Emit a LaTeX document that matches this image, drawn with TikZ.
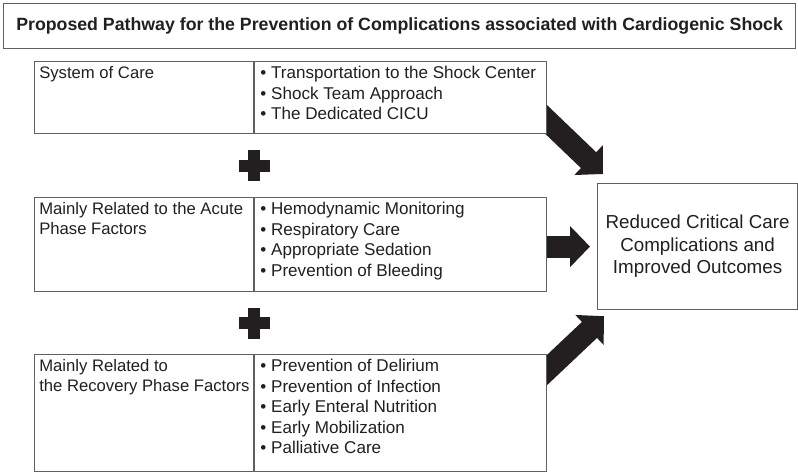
\documentclass[tikz,border=0pt]{standalone}
\usepackage{fontspec}
\setmainfont{Liberation Sans}
\usetikzlibrary{arrows.meta,positioning,calc,backgrounds}

\definecolor{ink}{HTML}{231F20}
\definecolor{rule}{HTML}{5F6062}

\begin{document}
\begin{tikzpicture}[
    x=0.75pt, y=-0.75pt,
    font=\fontsize{12.8pt}{15.4pt}\selectfont,
    text=ink,
    cell/.style={
        draw=rule,
        line width=0.9pt,
        fill=white,
        inner sep=0pt,
        anchor=north west
    },
    celltext/.style={align=left, inner sep=0pt, anchor=north west},
    nametext/.style={celltext, font=\fontsize{12.5pt}{15.4pt}\selectfont},
    heading/.style={cell, minimum width=594pt, minimum height=33.75pt,
        font=\bfseries\fontsize{13.3pt}{16pt}\selectfont},
    outcome/.style={cell, align=center, minimum width=150pt, minimum height=94.5pt,
        font=\fontsize{14.1pt}{16.9pt}\selectfont},
    bigarrow/.style={draw=ink, line width=16.5pt, -{Triangle[width=30pt, length=15pt]}}
]

\useasboundingbox (0,0) rectangle (798,473);

\node[heading] (title) at (3,3) {Proposed Pathway for the Prevention of Complications associated with Cardiogenic Shock};

% system of care
\node[cell, minimum width=164.25pt, minimum height=54pt] (careLeft) at (34,61) {};
\node[cell, minimum width=219pt, minimum height=54pt] (careRight) at (careLeft.north east) {};
\node[nametext] (careName) at ($(careLeft.north west)+(5,5)$) {System of Care};
\node[celltext] (careList) at ($(careRight.north west)+(6,5)$) {\textbullet\ Transportation to the Shock Center\\\textbullet\ Shock Team Approach\\\textbullet\ The Dedicated CICU};

% acute phase
\node[cell, minimum width=164.25pt, minimum height=70.5pt] (acuteLeft) at (34,197) {};
\node[cell, minimum width=219pt, minimum height=70.5pt] (acuteRight) at (acuteLeft.north east) {};
\node[nametext] (acuteName) at ($(acuteLeft.north west)+(5,5)$) {Mainly Related to the Acute\\Phase Factors};
\node[celltext] (acuteList) at ($(acuteRight.north west)+(6,5)$) {\textbullet\ Hemodynamic Monitoring\\\textbullet\ Respiratory Care\\\textbullet\ Appropriate Sedation\\\textbullet\ Prevention of Bleeding};

% recovery phase
\node[cell, minimum width=164.25pt, minimum height=87.75pt] (recoveryLeft) at (34,354) {};
\node[cell, minimum width=219pt, minimum height=87.75pt] (recoveryRight) at (recoveryLeft.north east) {};
\node[nametext] (recoveryName) at ($(recoveryLeft.north west)+(5,5)$) {Mainly Related to\\the Recovery Phase Factors};
\node[celltext] (recoveryList) at ($(recoveryRight.north west)+(6,5)$) {\textbullet\ Prevention of Delirium\\\textbullet\ Prevention of Infection\\\textbullet\ Early Enteral Nutrition\\\textbullet\ Early Mobilization\\\textbullet\ Palliative Care};

\node[outcome] (outcome) at (597,183) {Reduced Critical Care\\Complications and\\Improved Outcomes};

% plus signs between the rows
\coordinate (plusA) at ($(careRight.south west)!0.5!(acuteRight.north west)$);
\coordinate (plusB) at ($(acuteRight.south west)!0.5!(recoveryRight.north west)$);
\foreach \p in {plusA,plusB} {
    \fill[ink] ($(\p)+(-15.5,-6)$) rectangle ($(\p)+(15.5,6)$);
    \fill[ink] ($(\p)+(-6,-15.5)$) rectangle ($(\p)+(6,15.5)$);
}

\begin{pgfonlayer}{background}
    \fill[white] (0,0) rectangle (798,473);
    \draw[bigarrow] ($(careRight.south east)+(-13,-26)$) -- ($(outcome.north west)+(6,-9)$);
    \draw[bigarrow] ($(acuteRight.east |- outcome.west)+(-12,0)$) -- ($(outcome.west)+(-7,0)$);
    \draw[bigarrow] ($(recoveryRight.north east)+(-12,27)$) -- ($(outcome.south west)+(7,6)$);
\end{pgfonlayer}

\end{tikzpicture}
\end{document}
